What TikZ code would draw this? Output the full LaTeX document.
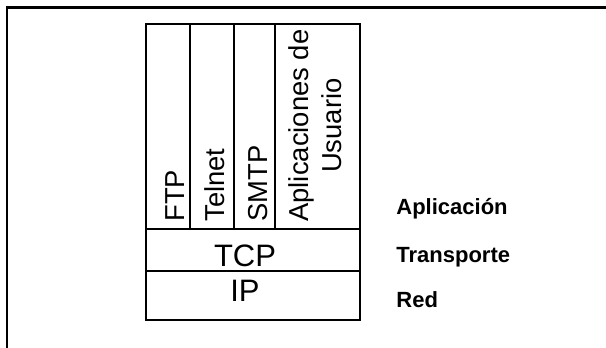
\documentclass[tikz,border=0pt]{standalone}
\usepackage{fontspec}
\setmainfont{Liberation Sans}
\usetikzlibrary{positioning}

\begin{document}
\begin{tikzpicture}[node distance=0pt,
  cell/.style={draw,line width=1pt,inner sep=0pt,outer sep=0pt,minimum height=102.5pt},
  vtext/.style={rotate=90,inner sep=0pt,font=\fontsize{13.7}{16.5}\selectfont},
  layertext/.style={inner sep=0pt,anchor=base,font=\fontsize{15.5}{18}\selectfont},
  layername/.style={inner sep=0pt,anchor=base west,font=\bfseries\fontsize{11}{13}\selectfont}]
  \useasboundingbox (0,0) rectangle (303pt,174pt);
  % frame
  \coordinate (f1) at (3.5pt,0pt);
  \coordinate (f2) at (3.5pt,170.25pt);
  \coordinate (f3) at (303pt,170.25pt);
  \draw[line width=1.2pt] (f1) -- (f2) -- (f3);
  % application columns
  \node[cell,minimum width=22pt,anchor=north west] (ftp) at (73pt,162pt) {};
  \node[cell,minimum width=22pt,right=of ftp] (telnet) {};
  \node[cell,minimum width=20.5pt,right=of telnet] (smtp) {};
  \node[cell,minimum width=42.5pt,right=of smtp] (usr) {};
  % lower layers
  \node[cell,minimum width=107pt,minimum height=21pt,anchor=north west] (tcp) at (ftp.south west) {};
  \node[cell,minimum width=107pt,minimum height=24.5pt,below=of tcp] (ip) {};
  % texts
  \node[vtext,anchor=base west] (ftptxt) at ([xshift=-3pt,yshift=3.5pt]ftp.south east) {FTP};
  \node[vtext,anchor=base west] (telnettxt) at ([xshift=-5pt,yshift=3.5pt]telnet.south east) {Telnet};
  \node[vtext,anchor=base west] (smtptxt) at ([xshift=-4pt,yshift=3.5pt]smtp.south east) {SMTP};
  \node[vtext,anchor=south west,align=center] (usrtxt) at ([xshift=-9pt,yshift=3.5pt]usr.south east) {Aplicaciones de\\Usuario};
  \node[layertext] (tcptxt) at ([xshift=-4pt,yshift=2pt]tcp.south) {TCP};
  \node[layertext] (iptxt) at ([xshift=-4pt,yshift=9pt]ip.south) {IP};
  % layer names
  \node[layername] (apl) at ([xshift=18pt,yshift=7pt]usr.south east) {Aplicación};
  \node[layername] (tra) at ([xshift=18pt,yshift=4pt]tcp.south east) {Transporte};
  \node[layername] (red) at ([xshift=18pt,yshift=6pt]ip.south east) {Red};
\end{tikzpicture}
\end{document}
